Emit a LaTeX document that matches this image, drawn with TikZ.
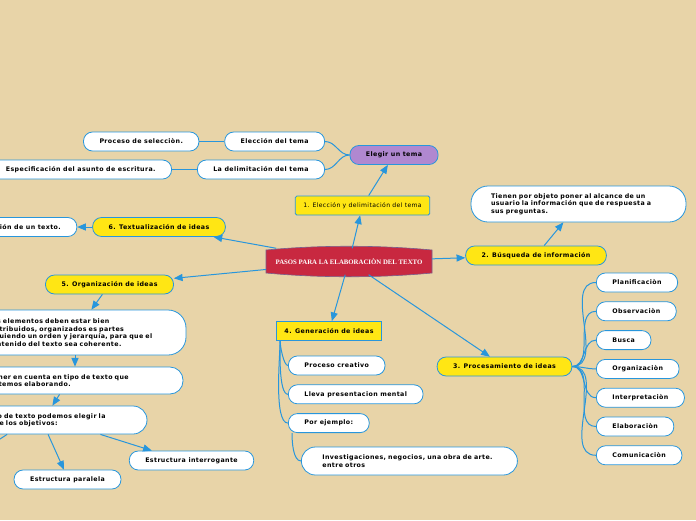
\documentclass[tikz,border=0pt]{standalone}
\usepackage{fontspec}
\setmainfont[LetterSpace=6]{DejaVu Sans}
\newfontfamily\titlefont{Liberation Serif}
\definecolor{mapbg}{RGB}{232,212,168}
\definecolor{mapblue}{RGB}{40,150,220}
\definecolor{mapyellow}{RGB}{255,230,20}
\definecolor{mappurple}{RGB}{176,136,208}
\definecolor{mapred}{RGB}{200,40,64}
\usetikzlibrary{arrows}
\usetikzlibrary{positioning}
\tikzset{
  idea/.style={
    draw=mapblue, fill=white, line width=0.8pt,
    rounded corners=9pt, minimum height=19pt,
    inner xsep=16pt, inner ysep=2pt,
    font=\fontsize{6.3}{7.6}\selectfont\bfseries
  },
  paso/.style={idea, fill=mapyellow},
  tema/.style={idea, fill=mappurple},
  caja/.style={idea, fill=mapyellow, rounded corners=1.5pt, inner xsep=8pt},
  nota/.style={idea, align=left},
  tituloraiz/.style={text=white, minimum width=166pt, minimum height=26pt,
    font=\titlefont\fontsize{6.8}{7}\selectfont\bfseries},
  flecha/.style={->, >=triangle 45, draw=mapblue, line width=1pt},
  rama/.style={draw=mapblue, line width=1pt}
}
\begin{document}
\begin{tikzpicture}[x=1pt, y=1pt]
  \useasboundingbox (0,0) rectangle (696,-520);
  \fill[mapbg] (0,0) rectangle (696,-520);

  % tema central
  \fill[mapred, draw=mapblue!50!mapred, line width=0.6pt]
    (266,-250) .. controls (320,-245) and (378,-245) .. (432,-250)
    -- (432,-273) .. controls (378,-278) and (320,-278) .. (266,-273) -- cycle;
  \node[tituloraiz] (raiz) at (349,-261.5) {PASOS PARA LA ELABORACIÒN DEL TEXTO};

  % 1
  \node[caja, font=\fontsize{6.1}{7.5}\selectfont] (eleccion) at (362.5,-205.5) {1. Elección y delimitación del tema};
  \node[tema] (elegir) at (394,-155) {Elegir un tema};
  \node[idea, anchor=east] (eltema) at (325,-141.5) {Elección del tema};
  \node[idea, left=25pt of eltema] (proceso) {Proceso de selecciòn.};
  \node[idea, anchor=east] (delim) at (325,-169.5) {La delimitación del tema};
  \node[idea, left=25pt of delim] (espec) {Especificación del asunto de escritura.};

  % 2
  \node[paso] (busqueda) at (536,-255.5) {2. Búsqueda de información};
  \node[nota, text width=175pt, inner xsep=20pt, minimum height=36pt, rounded corners=17pt] (tienen) at (578.5,-204)
    {Tienen por objeto poner al alcance de un\\usuario la información que de respuesta a\\sus preguntas.};

  % 3
  \node[paso] (procesa) at (504.5,-366.5) {3. Procesamiento de ideas};
  \node[idea, anchor=west] (planif) at (596,-282.5) {Planificaciòn};
  \node[idea, below right=9pt and 0pt of planif.south west] (observ) {Observaciòn};
  \node[idea, below right=9pt and 0pt of observ.south west] (busca) {Busca};
  \node[idea, below right=9pt and 0pt of busca.south west] (organiz) {Organizaciòn};
  \node[idea, below right=9pt and 0pt of organiz.south west] (interp) {Interpretaciòn};
  \node[idea, below right=9pt and 0pt of interp.south west] (elabor) {Elaboraciòn};
  \node[idea, below right=9pt and 0pt of elabor.south west] (comunic) {Comunicaciòn};

  % 4
  \node[caja, sharp corners] (genera) at (329,-331) {4. Generación de ideas};
  \node[idea, anchor=west] (creativo) at (288,-365.5) {Proceso creativo};
  \node[idea, below right=9pt and 0pt of creativo.south west] (mental) {Lleva presentacion mental};
  \node[idea, below right=9pt and 0pt of mental.south west] (ejemplo) {Por ejemplo:};
  \node[nota, anchor=west, text width=174pt, inner xsep=21pt, minimum height=28pt, rounded corners=14pt] (investig) at (301,-461)
    {Investigaciones, negocios, una obra de arte.\\entre otros};

  % 5
  \node[paso] (organiza) at (109.5,-284.5) {5. Organización de ideas};
  \node[nota, text width=174pt, inner xsep=24pt, minimum height=45pt, rounded corners=18pt] (elementos) at (75,-332.5)
    {Los elementos deben estar bien\\distribuidos, organizados es partes\\siguiendo un orden y jerarquía, para que el\\contenido del texto sea coherente.};
  \node[nota, text width=170pt, inner xsep=23pt, minimum height=27pt, rounded corners=13pt] (tener) at (75,-380.5)
    {Tener en cuenta en tipo de texto que\\estemos elaborando.};
  \node[nota, text width=172pt, inner xsep=23pt, minimum height=28pt, rounded corners=14pt] (segun) at (38,-420)
    {Según el tipo de texto podemos elegir la\\estructura de los objetivos:};
  \node[idea] (paralela) at (67.5,-479.5) {Estructura paralela};
  \node[idea] (interrog) at (191.5,-460.5) {Estructura interrogante};
  \coordinate (fuera) at (-20,-452);

  % 6
  \node[paso] (textual) at (159,-227) {6. Textualización de ideas};
  \node[idea, left=15pt of textual] (redaccion) {Redacción de un texto.};

  % conectores
  \draw[flecha] (raiz) -- (eleccion);
  \draw[flecha] (eleccion) -- (elegir);
  \draw[rama] (elegir.west) to[out=180, in=0] (eltema.east);
  \draw[rama] (elegir.west) to[out=180, in=0] (delim.east);
  \draw[rama] (eltema) -- (proceso);
  \draw[rama] (delim) -- (espec);

  \draw[flecha] (raiz) -- (busqueda);
  \draw[flecha] (busqueda) -- (tienen);

  \draw[flecha] (raiz) -- (procesa);
  \foreach \hijo in {planif,observ,busca,organiz,interp,elabor,comunic}
    \draw[rama] (procesa.east) to[out=0, in=180] (\hijo.west);

  \draw[flecha] (raiz) -- (genera);
  \coordinate (generapie) at ([xshift=4pt]genera.south west);
  \foreach \hijo in {creativo,mental,ejemplo}
    \draw[rama] (generapie) to[out=-90, in=180, looseness=0.45] (\hijo.west);
  \draw[rama] ([xshift=4pt]ejemplo.south west) to[out=-90, in=180, looseness=0.7] (investig.west);

  \draw[flecha] (raiz) -- (organiza);
  \draw[flecha] (organiza) -- (elementos);
  \draw[flecha] (elementos.south) -- (tener.north);
  \draw[flecha] (tener.222) -- (segun.45);
  \draw[flecha] (segun.305) -- (paralela.110);
  \draw[flecha] (segun.347) -- (interrog.166);
  \draw[flecha] (segun.205) -- (fuera);

  \draw[flecha] (raiz) -- (textual);
  \draw[flecha] (textual) -- (redaccion);
\end{tikzpicture}
\end{document}
